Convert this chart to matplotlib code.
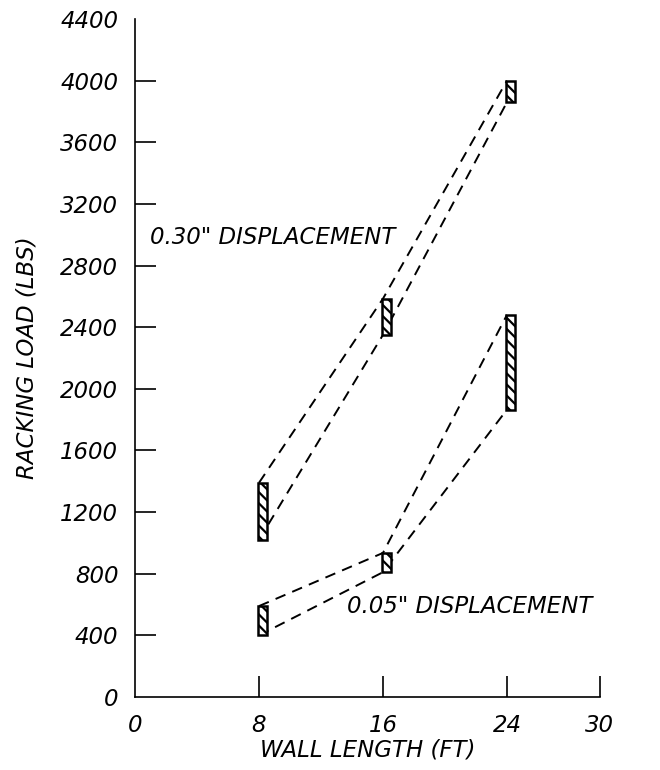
import numpy as np
import matplotlib
matplotlib.use("Agg")
import matplotlib.pyplot as plt
from matplotlib.patches import Rectangle

plt.rcParams['font.family'] = ['DejaVu Sans']
plt.rcParams['hatch.linewidth'] = 1.6

# wall lengths (ft)
lengths = [8, 16, 24]

# 0.30" displacement band: bottom / top of each hatched bar (lbs)
d30_low = [1020, 2350, 3860]
d30_high = [1390, 2585, 4000]

# 0.05" displacement band
d05_low = [400, 810, 1865]
d05_high = [590, 935, 2480]

xticks = [0, 8, 16, 24, 30]
yticks = [0, 400, 800, 1200, 1600, 2000, 2400, 2800, 3200, 3600, 4000, 4400]

fig = plt.figure(figsize=(6.6, 7.7), dpi=100)
ax = fig.add_axes([0.2045, 0.0948, 0.7045, 0.8805])

ax.set_xlim(0, 30)
ax.set_ylim(0, 4400)

dash = dict(color="black", lw=1.4, dashes=(5.5, 3.8), zorder=1)
for low, high in [(d30_low, d30_high), (d05_low, d05_high)]:
    ax.plot(lengths, high, **dash)
    ax.plot(lengths, low, **dash)
    for x, lo, hi in zip(lengths, low, high):
        ax.add_patch(Rectangle((x - 0.05, lo), 0.55, hi - lo, facecolor="white",
                               edgecolor="black", lw=1.8, hatch="\\\\\\", zorder=3))

ax.spines['top'].set_visible(False)
ax.spines['right'].set_visible(False)
ax.spines['left'].set_linewidth(1.2)
ax.spines['bottom'].set_linewidth(1.2)

ax.set_xticks(xticks)
ax.set_yticks(yticks)
ax.set_xticklabels([str(t) for t in xticks], fontsize=16.5, style="italic")
ax.set_yticklabels([str(t) for t in yticks], fontsize=16.5, style="italic")
ax.tick_params(axis="both", direction="in", length=15, width=1.2)
ax.tick_params(axis="y", pad=12)
ax.tick_params(axis="x", pad=12)
ax.yaxis.get_major_ticks()[-1].tick1line.set_visible(False)
ax.yaxis.get_major_ticks()[0].tick1line.set_visible(False)
ax.xaxis.get_major_ticks()[0].tick1line.set_visible(False)

ax.set_xlabel("WALL LENGTH (FT)", fontsize=16.5, style="italic", labelpad=1)
ax.set_ylabel("RACKING LOAD (LBS)", fontsize=16.5, style="italic", labelpad=16)

ax.text(1.0, 2985, "0.30\" DISPLACEMENT", fontsize=16.5, style="italic", va="center", ha="left")
ax.text(13.7, 585, "0.05\" DISPLACEMENT", fontsize=16.5, style="italic", va="center", ha="left")

fig.savefig("out.png", dpi=100)
